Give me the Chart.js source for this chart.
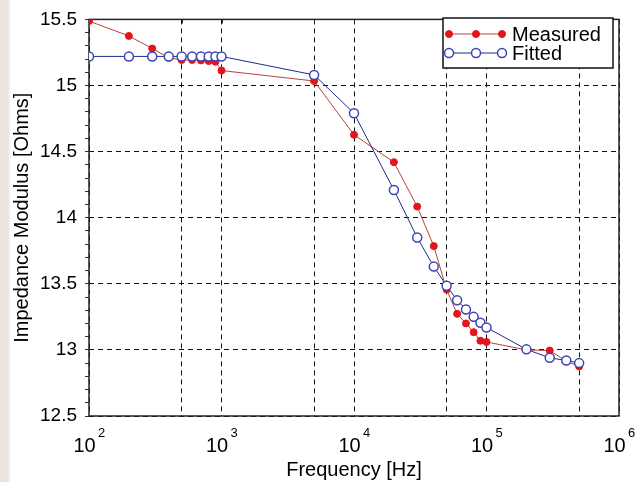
<!DOCTYPE html>
<html>
<head>
<meta charset="utf-8">
<script src="https://cdn.jsdelivr.net/npm/chart.js@4"></script>
<style>
html, body { margin: 0; padding: 0; }
body { width: 644px; height: 482px; background: linear-gradient(to right, #ece3df 0, #ece3df 8px, #ffffff 11px); }
canvas { display: block; }
</style>
</head>
<body>
<canvas id="myChart" width="644" height="482"></canvas>
<script>
// frequencies in Hz
var freqs = [100, 200, 300, 400, 500, 600, 700, 800, 900, 1000, 5000, 1e4, 2e4, 3e4, 4e4, 5e4, 6e4, 7e4, 8e4, 9e4, 1e5, 2e5, 3e5, 4e5, 5e5];
var measured = [15.487, 15.375, 15.28, 15.21, 15.193, 15.193, 15.19, 15.185, 15.18, 15.113, 15.034, 14.627, 14.42, 14.084, 13.785, 13.456, 13.273, 13.20, 13.134, 13.069, 13.06, 13.0, 12.995, 12.915, 12.875];
var fitted = [15.22, 15.22, 15.22, 15.22, 15.22, 15.22, 15.22, 15.22, 15.22, 15.22, 15.08, 14.79, 14.21, 13.85, 13.63, 13.486, 13.376, 13.306, 13.25, 13.206, 13.17, 13.004, 12.94, 12.92, 12.90];
var xGridTicks = [1e2, 5e2, 1e3, 5e3, 1e4, 5e4, 1e5, 5e5, 1e6];
var xLabelTicks = [1e2, 1e3, 1e4, 1e5, 1e6];
var xExponents = ['2', '3', '4', '5', '6'];

var FONT = "'Liberation Sans', Arial, Helvetica, sans-serif";

function isMajor(v) {
    return Math.abs(v * 2 - Math.round(v * 2)) < 1e-6;
}

// box round the plot area, plus little ticks on the top edge
var frame = {
    id: 'frame',
    beforeDatasetsDraw: function (chart) {
        var a = chart.chartArea, c = chart.ctx, x = chart.scales.x;
        c.save();
        c.strokeStyle = '#222';
        c.lineWidth = 1.5;
        c.strokeRect(a.left, a.top, a.right - a.left, a.bottom - a.top);
        c.lineWidth = 1;
        c.beginPath();
        xGridTicks.forEach(function (v) {
            var px = Math.round(x.getPixelForValue(v)) + 0.5;
            c.moveTo(px, a.top);
            c.lineTo(px, a.top + 4);
        });
        c.stroke();
        c.restore();
    }
};

// x labels as 10 with a small raised exponent
var powerLabels = {
    id: 'powerLabels',
    afterDraw: function (chart) {
        var c = chart.ctx, x = chart.scales.x;
        c.save();
        c.fillStyle = '#000';
        c.textBaseline = 'alphabetic';
        xLabelTicks.forEach(function (v, i) {
            var px = x.getPixelForValue(v);
            c.font = '20px ' + FONT;
            c.textAlign = 'center';
            c.fillText('10', px - 4.5, 452);
            c.font = '13px ' + FONT;
            c.textAlign = 'left';
            c.fillText(xExponents[i], px + 9, 437);
        });
        c.restore();
    }
};

// legend box with three markers per line
var boxLegend = {
    id: 'boxLegend',
    afterDraw: function (chart) {
        var c = chart.ctx;
        c.save();
        c.fillStyle = '#fff';
        c.fillRect(443, 18, 170, 50);
        c.strokeStyle = '#111';
        c.lineWidth = 1.5;
        c.strokeRect(443, 18, 170, 50);
        chart.data.datasets.forEach(function (ds, i) {
            var y = 34 + i * 19;
            c.strokeStyle = ds.borderColor;
            c.lineWidth = 1;
            c.beginPath();
            c.moveTo(449, y);
            c.lineTo(502, y);
            c.stroke();
            [449, 476, 502].forEach(function (mx) {
                c.beginPath();
                c.arc(mx, y, ds.pointRadius, 0, Math.PI * 2);
                c.fillStyle = ds.pointBackgroundColor;
                c.fill();
                c.lineWidth = ds.pointBorderWidth;
                c.strokeStyle = ds.pointBorderColor;
                c.stroke();
            });
            c.fillStyle = '#000';
            c.font = '20px ' + FONT;
            c.textAlign = 'left';
            c.textBaseline = 'middle';
            c.fillText(ds.label, 512, y + 1);
        });
        c.restore();
    }
};

var ctx = document.getElementById('myChart').getContext('2d');
var chart = new Chart(ctx, {
    type: 'line',
    data: {
        labels: freqs,
        datasets: [{
            label: 'Measured',
            data: freqs.map(function (f, i) { return { x: f, y: measured[i] }; }),
            borderColor: '#b8443a',
            borderWidth: 1,
            pointRadius: 3.5,
            pointBackgroundColor: '#e3141b',
            pointBorderColor: '#e3141b',
            pointBorderWidth: 1,
            tension: 0,
            order: 1
        }, {
            label: 'Fitted',
            data: freqs.map(function (f, i) { return { x: f, y: fitted[i] }; }),
            borderColor: '#1f2a8a',
            borderWidth: 1,
            pointRadius: 4.5,
            pointBackgroundColor: '#ffffff',
            pointBorderColor: '#3a45b5',
            pointBorderWidth: 1.5,
            tension: 0,
            order: 0
        }]
    },
    options: {
        responsive: false,
        animation: false,
        devicePixelRatio: 1,
        layout: { padding: { top: 15, right: 25, left: 0, bottom: 0 } },
        plugins: {
            legend: { display: false },
            tooltip: { enabled: false }
        },
        scales: {
            x: {
                type: 'logarithmic',
                min: 100,
                max: 1e6,
                afterBuildTicks: function (scale) {
                    scale.ticks = xGridTicks.map(function (v) { return { value: v }; });
                },
                afterFit: function (scale) { scale.height = 66; },
                ticks: { display: false },
                grid: { color: '#111', lineWidth: 1, drawTicks: false },
                border: { display: false, dash: [5, 4] },
                title: {
                    display: true,
                    text: 'Frequency [Hz]',
                    color: '#000',
                    font: { family: FONT, size: 20 },
                    padding: { top: 0, bottom: 0 }
                }
            },
            y: {
                min: 12.5,
                max: 15.5,
                afterFit: function (scale) { scale.width = 89; },
                ticks: {
                    stepSize: 0.1,
                    autoSkip: false,
                    padding: 8,
                    color: '#000',
                    font: { family: FONT, size: 19 },
                    callback: function (v) {
                        return isMajor(v) ? String(Math.round(v * 10) / 10) : '';
                    }
                },
                grid: {
                    lineWidth: 1,
                    tickLength: 4,
                    color: function (c) { return isMajor(c.tick.value) ? '#111' : 'rgba(0,0,0,0)'; },
                    tickColor: '#333'
                },
                border: { display: false, dash: [5, 4] },
                title: {
                    display: true,
                    text: 'Impedance Modulus [Ohms]',
                    color: '#000',
                    font: { family: FONT, size: 20 },
                    padding: { top: 10, bottom: 0 }
                }
            }
        }
    },
    plugins: [frame, powerLabels, boxLegend]
});
</script>
</body>
</html>
